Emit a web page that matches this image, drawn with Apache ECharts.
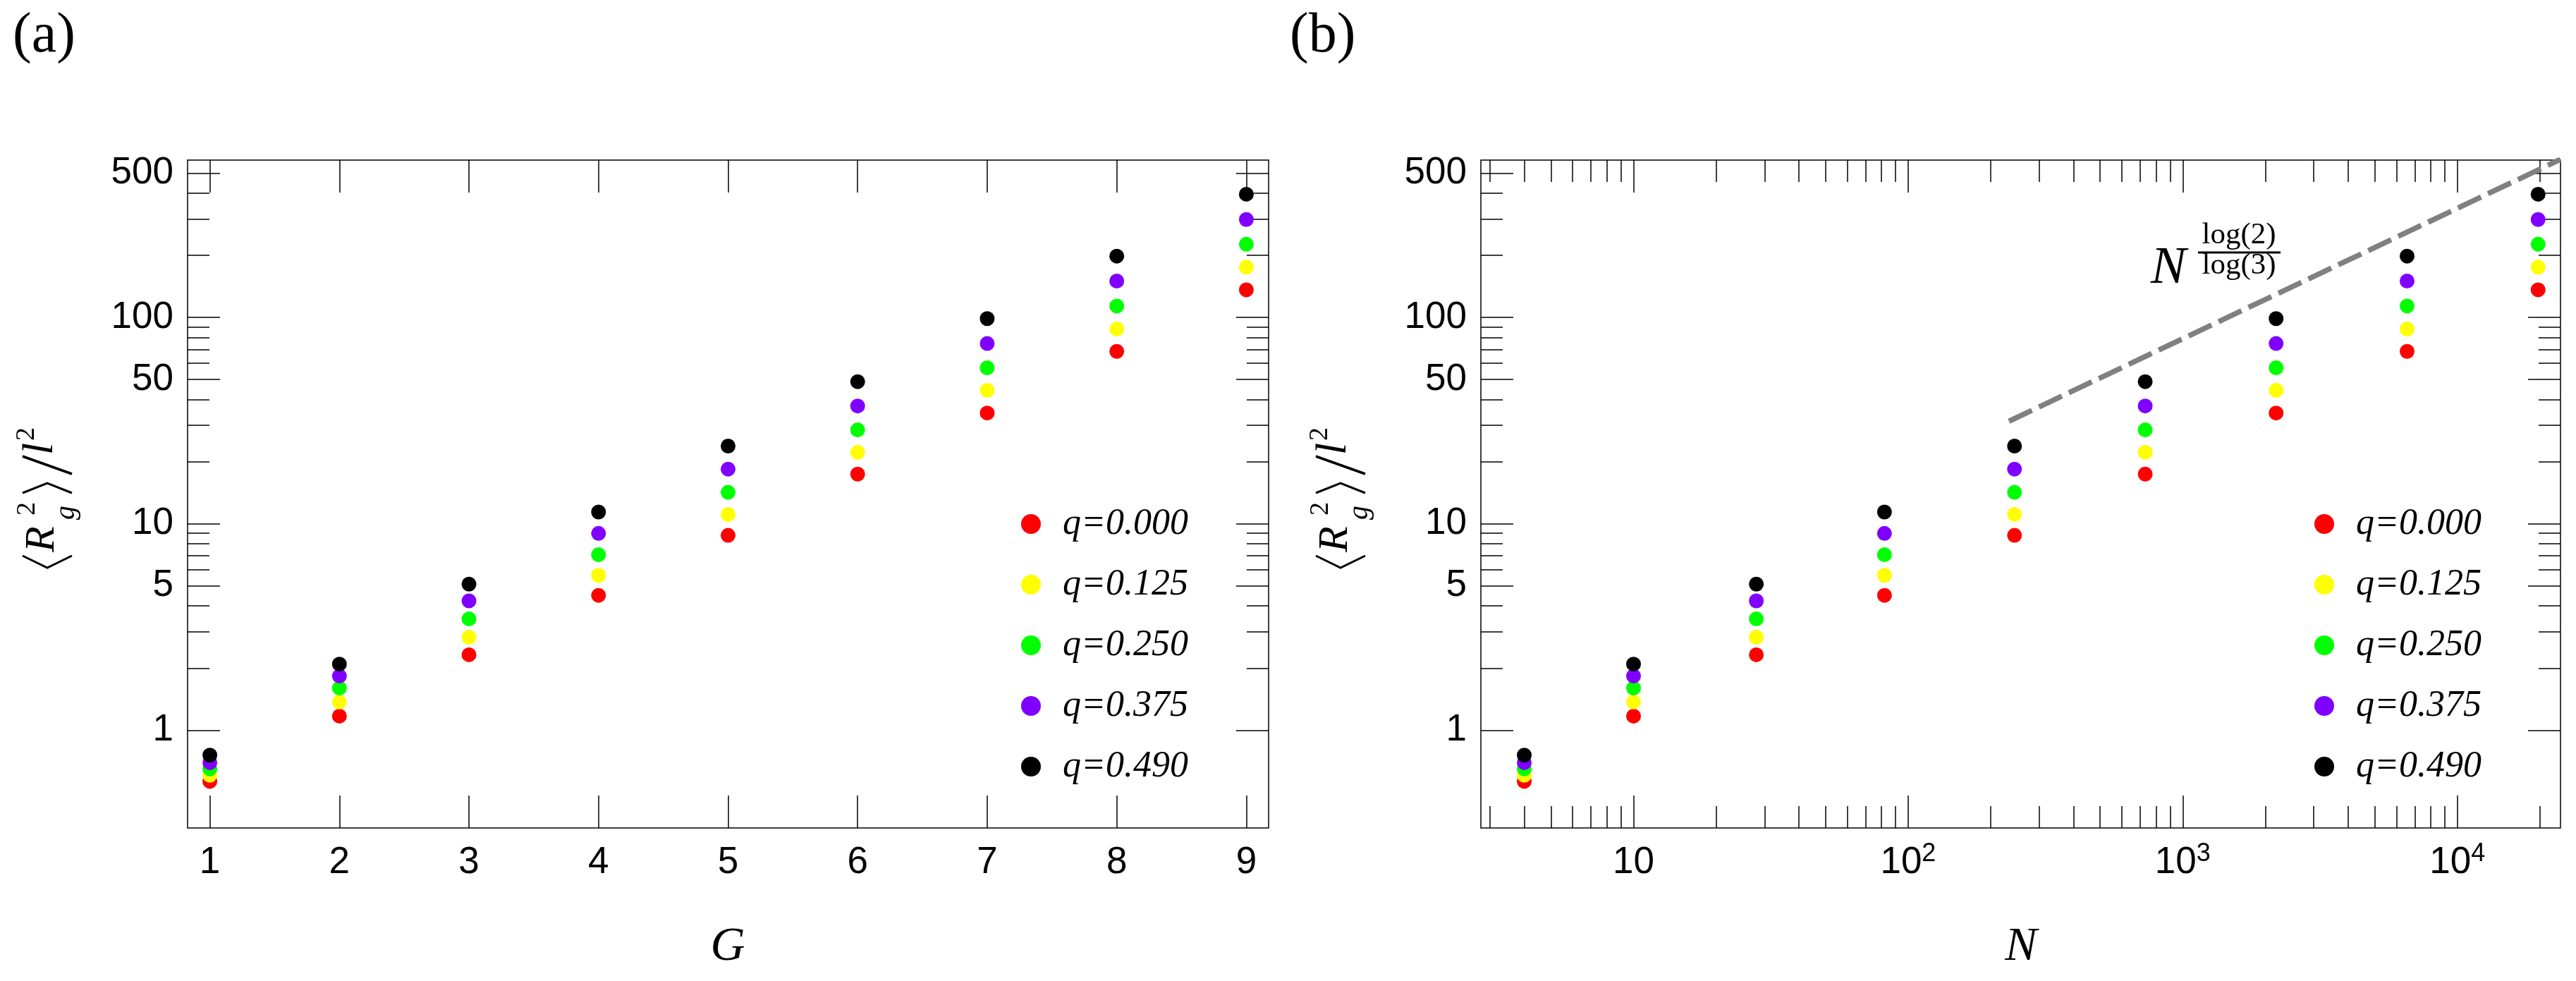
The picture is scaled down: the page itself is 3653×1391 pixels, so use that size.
<!DOCTYPE html>
<html>
<head>
<meta charset="utf-8">
<script src="https://cdn.jsdelivr.net/npm/echarts@6/dist/echarts.min.js"></script>
<style>
html, body { margin: 0; padding: 0; background: #fff; }
#main { width: 3653px; height: 1391px; }
</style>
</head>
<body>
<div id="main"></div>
<script>
// generation G and number of nodes N of each network
const generations = [1, 2, 3, 4, 5, 6, 7, 8, 9];
const nodeCounts = [4, 10, 28, 82, 244, 730, 2188, 6562, 19684];

// <Rg^2>/l^2, one array per q
const qLabels = ['q=0.000', 'q=0.125', 'q=0.250', 'q=0.375', 'q=0.490'];
const rg000 = [0.565, 1.17, 2.32, 4.50, 8.79, 17.4, 34.4, 68.4, 136];
const rg125 = [0.605, 1.37, 2.82, 5.63, 11.1, 22.2, 44.3, 87.8, 175];
const rg250 = [0.649, 1.60, 3.46, 7.08, 14.2, 28.5, 57.0, 113.5, 226];
const rg375 = [0.696, 1.83, 4.23, 8.98, 18.4, 37.2, 74.7, 150, 298];
const rg490 = [0.757, 2.09, 5.10, 11.4, 23.8, 48.8, 98.6, 198, 395];
const qColors = ['#ff0000', '#ffff00', '#00ff00', '#8000ff', '#000000'];

// dashed guide N^(log2/log3), ends
const guideN = [233, 23750];
const guideR = [31.4, 583];

// ticks
const gTicks = [1, 2, 3, 4, 5, 6, 7, 8, 9];
const nMajor = [10, 100, 1000, 10000];
const nMinor = [3, 4, 5, 6, 7, 8, 9, 20, 30, 40, 50, 60, 70, 80, 90,
  200, 300, 400, 500, 600, 700, 800, 900, 2000, 3000, 4000, 5000, 6000, 7000, 8000, 9000, 20000];
const rMajor = [1, 5, 10, 50, 100, 500];
const rMinor = [2, 3, 4, 6, 7, 8, 9, 20, 30, 40, 60, 70, 80, 90, 200, 300, 400];

const series1 = [rg000, rg125, rg250, rg375, rg490];

const SANS = '"Liberation Sans", Arial, sans-serif';
const SERIF = '"Liberation Serif", "Times New Roman", serif';
const tickStyle = { color: '#000', width: 1.5 };

function axis(grid, type, min, max, position, ticks, len, label) {
  return {
    gridIndex: grid, type, min, max, position,
    axisLine: { show: false },
    splitLine: { show: false },
    axisTick: { show: true, inside: true, length: len, customValues: ticks, lineStyle: tickStyle },
    axisLabel: label ? Object.assign({ show: true }, label) : { show: false }
  };
}

const gLabel = { customValues: gTicks, fontFamily: SANS, fontSize: 53, color: '#000', margin: 23 };
const rLabel = { customValues: rMajor, fontFamily: SANS, fontSize: 53, color: '#000', margin: 20 };
const nLabel = {
  customValues: nMajor, margin: 19, color: '#000',
  formatter: v => {
    const e = Math.round(Math.log10(v));
    return e === 1 ? '{b|10}' : '{b|10}{s|' + e + '}';
  },
  rich: {
    b: { fontFamily: SANS, fontSize: 53, color: '#000', verticalAlign: 'bottom', padding: [4, 0, 0, 0] },
    s: { fontFamily: SANS, fontSize: 36, color: '#000', verticalAlign: 'top' }
  }
};

const xMin = 0.828, xMax = 9.172;
const nMin = 2.78, nMax = 23750;
const rMin = 0.336, rMax = 578;

const xAxes = [
  axis(0, 'value', xMin, xMax, 'bottom', gTicks, 46, gLabel),
  axis(0, 'value', xMin, xMax, 'top', gTicks, 46),
  axis(1, 'log', nMin, nMax, 'bottom', nMajor, 46, nLabel),
  axis(1, 'log', nMin, nMax, 'bottom', nMinor, 31),
  axis(1, 'log', nMin, nMax, 'top', nMajor, 46),
  axis(1, 'log', nMin, nMax, 'top', nMinor, 31)
];
const yAxes = [];
[0, 1].forEach(g => {
  yAxes.push(axis(g, 'log', rMin, rMax, 'left', rMajor, 46, rLabel));
  yAxes.push(axis(g, 'log', rMin, rMax, 'left', rMinor, 31));
  yAxes.push(axis(g, 'log', rMin, rMax, 'right', rMajor, 46));
  yAxes.push(axis(g, 'log', rMin, rMax, 'right', rMinor, 31));
});

const series = [];
series1.forEach((vals, i) => {
  series.push({
    name: qLabels[i], type: 'scatter', xAxisIndex: 0, yAxisIndex: 0,
    symbol: 'circle', symbolSize: 21, itemStyle: { color: qColors[i], opacity: 1 },
    data: generations.map((g, k) => [g, vals[k]])
  });
});
series.push({
  type: 'line', xAxisIndex: 2, yAxisIndex: 4, symbol: 'none', silent: true,
  lineStyle: { color: '#808080', width: 7.5, type: [36, 11] },
  data: guideN.map((n, k) => [n, guideR[k]])
});
series1.forEach((vals, i) => {
  series.push({
    name: qLabels[i], type: 'scatter', xAxisIndex: 2, yAxisIndex: 4,
    symbol: 'circle', symbolSize: 21, itemStyle: { color: qColors[i], opacity: 1 },
    data: nodeCounts.map((n, k) => [n, vals[k]])
  });
});

function legendAt(left) {
  return {
    orient: 'vertical', left, top: 708, itemWidth: 28, itemHeight: 28, itemGap: 26,
    icon: 'circle', selectedMode: false, data: qLabels,
    formatter: name => '\u2002' + name,
    textStyle: { fontFamily: SERIF, fontStyle: 'italic', fontSize: 52, color: '#000', lineHeight: 60 }
  };
}

function txt(x, y, text, size, italic, align) {
  return {
    type: 'text', x, y,
    style: { text, fontFamily: SERIF, fontSize: size, fontStyle: italic ? 'italic' : 'normal',
      fill: '#000', align: align || 'left', verticalAlign: 'middle' }
  };
}

// rotated <R_g^2>/l^2, drawn in its own text frame
function yTitle(x0, y0) {
  const stroke = { stroke: '#000', lineWidth: 3, fill: 'none' };
  return {
    type: 'group', x: x0, y: y0, rotation: Math.PI / 2,
    children: [
      { type: 'polyline', shape: { points: [[17, -48], [0, -13], [17, 22]] }, style: stroke },
      txt(22, -20, 'R', 60, true),
      txt(74, -41, '2', 38, false),
      txt(68, 14, 'g', 40, true),
      { type: 'polyline', shape: { points: [[106, -48], [120, -13], [106, 22]] }, style: stroke },
      { type: 'line', shape: { x1: 133, y1: 22, x2: 158, y2: -48 }, style: { stroke: '#000', lineWidth: 3.5 } },
      txt(160, -22, 'l', 62, true),
      txt(180, -42, '2', 38, false)
    ]
  };
}

const chart = echarts.init(document.getElementById('main'));
chart.setOption({
  animation: false,
  backgroundColor: '#fff',
  grid: [
    { left: 266, top: 227, width: 1533, height: 947, show: true, borderColor: '#000', borderWidth: 1.5 },
    { left: 2100, top: 227, width: 1531, height: 947, show: true, borderColor: '#000', borderWidth: 1.5 }
  ],
  xAxis: xAxes,
  yAxis: yAxes,
  legend: [legendAt(1443), legendAt(3277)],
  series,
  graphic: [
    txt(18, 52, '(a)', 80, false),
    txt(1829, 52, '(b)', 80, false),
    txt(1032, 1343, 'G', 68, true, 'center'),
    txt(2866, 1343, 'N', 68, true, 'center'),
    yTitle(80, 805),
    yTitle(1914, 805),
    txt(3050, 381, 'N', 75, true),
    { type: 'line', shape: { x1: 3117, y1: 358, x2: 3234, y2: 358 }, style: { stroke: '#000', lineWidth: 3 } },
    txt(3175, 334, 'log(2)', 43, false, 'center'),
    txt(3175, 377, 'log(3)', 43, false, 'center')
  ]
});
</script>
</body>
</html>
